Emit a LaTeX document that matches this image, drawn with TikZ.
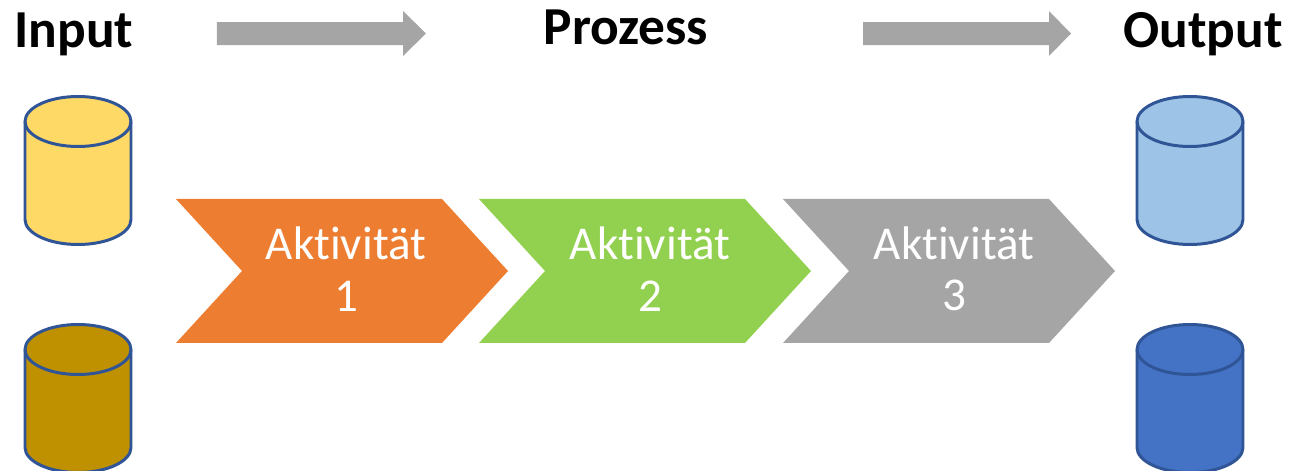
\documentclass[tikz,border=0pt]{standalone}
\usepackage{fontspec}
\setmainfont{Carlito}[Ligatures=NoCommon]
\usetikzlibrary{calc, positioning}
\definecolor{drumline}{HTML}{2F5597}
\definecolor{drumyellow}{HTML}{FFD966}
\definecolor{drumgold}{HTML}{BF9000}
\definecolor{drumsky}{HTML}{9DC3E6}
\definecolor{drumblue}{HTML}{4472C4}
\definecolor{steporange}{HTML}{ED7D31}
\definecolor{stepgreen}{HTML}{92D050}
\definecolor{stepgrey}{HTML}{A5A5A5}
\tikzset{
  headline/.style={font=\bfseries\fontsize{15.2}{17}\selectfont, text=black, anchor=base, inner sep=0pt},
  steptext/.style={font=\fontsize{13.4}{14.6}\selectfont, text=white, align=center, inner sep=0pt},
  drum/.style={draw=drumline, line width=0.85pt},
  flowarrow/.style={fill=stepgrey, draw=none},
}
\begin{document}
\begin{tikzpicture}[scale=1.0]
    \clip (0,0) rectangle (13.12,4.70);

    % Headlines
    \node[headline] (input) at (0.74,4.23) {Input};
    \node[headline] (prozess) at (6.26,4.25) {Prozess};
    \node[headline] (output) at (12.03,4.23) {Output};

    % Arrows on top
    \fill[flowarrow] (2.17,4.48) -- (4.03,4.48) -- (4.03,4.59) -- (4.26,4.365) -- (4.03,4.14) -- (4.03,4.25) -- (2.17,4.25) -- cycle;
    \fill[flowarrow] (8.63,4.48) -- (10.49,4.48) -- (10.49,4.59) -- (10.71,4.365) -- (10.49,4.14) -- (10.49,4.25) -- (8.63,4.25) -- cycle;

    % Input drums
    \draw[drum, fill=drumyellow] (0.25,3.485) -- (0.25,2.505) arc[start angle=180, end angle=360, x radius=0.53, y radius=0.25] -- (1.31,3.485) arc[start angle=0, end angle=180, x radius=0.53, y radius=0.25] -- cycle;
    \draw[drum] (0.25,3.485) arc[start angle=180, end angle=360, x radius=0.53, y radius=0.25];
    \draw[drum, fill=drumgold] (0.25,1.205) -- (0.25,0.225) arc[start angle=180, end angle=360, x radius=0.53, y radius=0.25] -- (1.31,1.205) arc[start angle=0, end angle=180, x radius=0.53, y radius=0.25] -- cycle;
    \draw[drum] (0.25,1.205) arc[start angle=180, end angle=360, x radius=0.53, y radius=0.25];

    % Output drums
    \draw[drum, fill=drumsky] (11.37,3.485) -- (11.37,2.505) arc[start angle=180, end angle=360, x radius=0.53, y radius=0.25] -- (12.43,3.485) arc[start angle=0, end angle=180, x radius=0.53, y radius=0.25] -- cycle;
    \draw[drum] (11.37,3.485) arc[start angle=180, end angle=360, x radius=0.53, y radius=0.25];
    \draw[drum, fill=drumblue] (11.37,1.205) -- (11.37,0.225) arc[start angle=180, end angle=360, x radius=0.53, y radius=0.25] -- (12.43,1.205) arc[start angle=0, end angle=180, x radius=0.53, y radius=0.25] -- cycle;
    \draw[drum] (11.37,1.205) arc[start angle=180, end angle=360, x radius=0.53, y radius=0.25];

    % Activities
    \fill[steporange] (1.76,2.71) -- (4.42,2.71) -- (5.08,1.99) -- (4.42,1.27) -- (1.76,1.27) -- (2.42,1.99) -- cycle;
    \node[steptext] (step1) at (3.46,2.01) {Aktivität\\1};

    \fill[stepgreen] (4.79,2.71) -- (7.45,2.71) -- (8.11,1.99) -- (7.45,1.27) -- (4.79,1.27) -- (5.45,1.99) -- cycle;
    \node[steptext] (step2) at (6.50,2.01) {Aktivität\\2};

    \fill[stepgrey] (7.83,2.71) -- (10.49,2.71) -- (11.15,1.99) -- (10.49,1.27) -- (7.83,1.27) -- (8.49,1.99) -- cycle;
    \node[steptext] (step3) at (9.54,2.01) {Aktivität\\3};
\end{tikzpicture}
\end{document}
